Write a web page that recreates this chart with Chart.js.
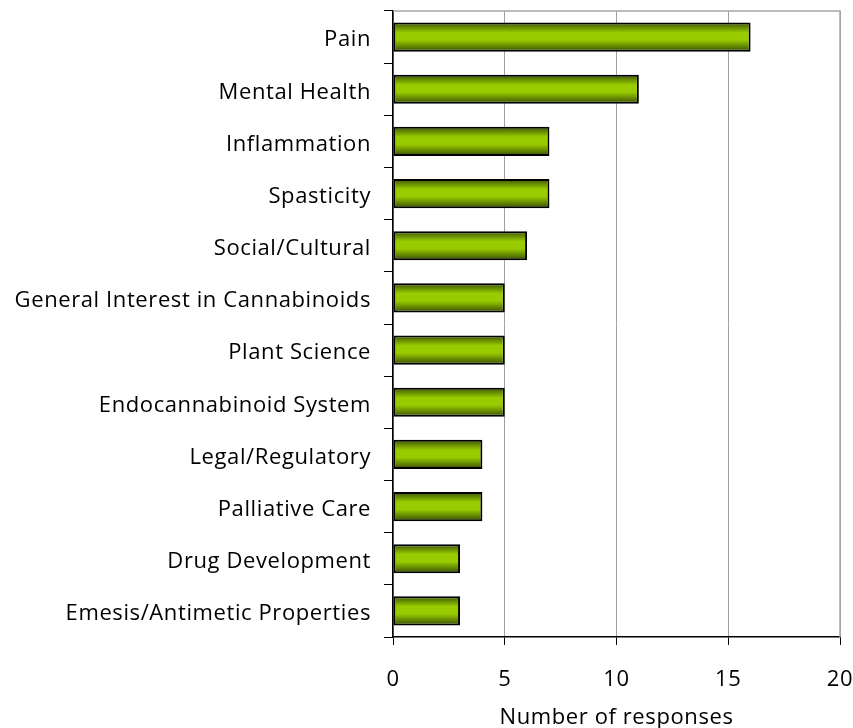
<!DOCTYPE html>
<html>
<head>
<meta charset="utf-8">
<script src="https://cdn.jsdelivr.net/npm/chart.js@4.4.0/dist/chart.umd.min.js"></script>
<style>
  html, body { margin: 0; padding: 0; background: #fff; }
  #wrap { width: 853px; height: 728px; }
</style>
</head>
<body>
<div id="wrap"><canvas id="topicsChart" width="853" height="728"></canvas></div>
<script>
// Kategorije in vrednosti (od zgoraj navzdol)
const categories = [
  'Pain',
  'Mental Health',
  'Inflammation',
  'Spasticity',
  'Social/Cultural',
  'General Interest in Cannabinoids',
  'Plant Science',
  'Endocannabinoid System',
  'Legal/Regulatory',
  'Palliative Care',
  'Drug Development',
  'Emesis/Antimetic Properties'
];
const responses = [16, 11, 7, 7, 6, 5, 5, 5, 4, 4, 3, 3];
const xTicks = [0, 5, 10, 15, 20];

const labelFont = { family: 'Open Sans', size: 22 };

// Zelen gradient za vsak stolpec (temen rob, svetla sredina)
function barGradient(ctx) {
  const chart = ctx.chart;
  const y = chart.scales.y;
  if (!chart.chartArea || !y) return '#99cc00';
  const center = y.getPixelForValue(ctx.dataIndex);
  const half = (chart.chartArea.height / categories.length) * 0.56 / 2;
  const g = chart.ctx.createLinearGradient(0, center - half, 0, center + half);
  g.addColorStop(0, '#3a5200');
  g.addColorStop(0.35, '#99cc00');
  g.addColorStop(0.6, '#99cc00');
  g.addColorStop(1, '#354b00');
  return g;
}

// Razmik med črkami (original je nekoliko razpotegnjen)
const spacing = {
  id: 'spacing',
  beforeUpdate(chart) { chart.ctx.letterSpacing = '0.6px'; },
  beforeDraw(chart) { chart.ctx.letterSpacing = '0.6px'; }
};

// Siv okvir zgoraj in desno
const frame = {
  id: 'frame',
  beforeDatasetsDraw(chart) {
    const a = chart.chartArea, c = chart.ctx;
    c.save();
    c.strokeStyle = '#a6a6a6';
    c.lineWidth = 1.5;
    c.beginPath();
    c.moveTo(a.left, a.top);
    c.lineTo(a.right, a.top);
    c.lineTo(a.right, a.bottom);
    c.stroke();
    c.restore();
  }
};

new Chart(document.getElementById('topicsChart'), {
  type: 'bar',
  data: {
    labels: categories,
    datasets: [{
      data: responses,
      backgroundColor: barGradient,
      borderColor: '#000',
      borderWidth: 2,
      borderSkipped: false,
      categoryPercentage: 0.56,
      barPercentage: 1
    }]
  },
  options: {
    indexAxis: 'y',
    responsive: false,
    animation: false,
    layout: { padding: { top: 11, right: 13, left: 0, bottom: 0 } },
    plugins: { legend: { display: false }, tooltip: { enabled: false } },
    scales: {
      x: {
        min: 0,
        max: 20,
        afterBuildTicks(axis) { axis.ticks = xTicks.map(v => ({ value: v })); },
        afterFit(axis) {
          axis.height = 91;
          axis.paddingLeft = 0;
          axis.paddingRight = 0;
        },
        border: { display: true, color: '#000', width: 1.5 },
        grid: { color: '#a0a0a0', lineWidth: 1, tickColor: '#000', tickLength: 8, drawTicks: true },
        ticks: { color: '#000', font: labelFont, padding: 22 },
        title: { display: true, text: 'Number of responses', color: '#000', font: labelFont, padding: { top: 4, bottom: -3 } }
      },
      y: {
        afterFit(axis) {
          axis.width = 393;
          axis.paddingTop = 0;
          axis.paddingBottom = 0;
        },
        border: { display: true, color: '#000', width: 1.5 },
        grid: { offset: true, drawOnChartArea: false, drawTicks: true, tickLength: 9, tickColor: '#000' },
        ticks: { color: '#000', font: labelFont, padding: 13, labelOffset: 3 }
      }
    }
  },
  plugins: [spacing, frame]
});
</script>
</body>
</html>
